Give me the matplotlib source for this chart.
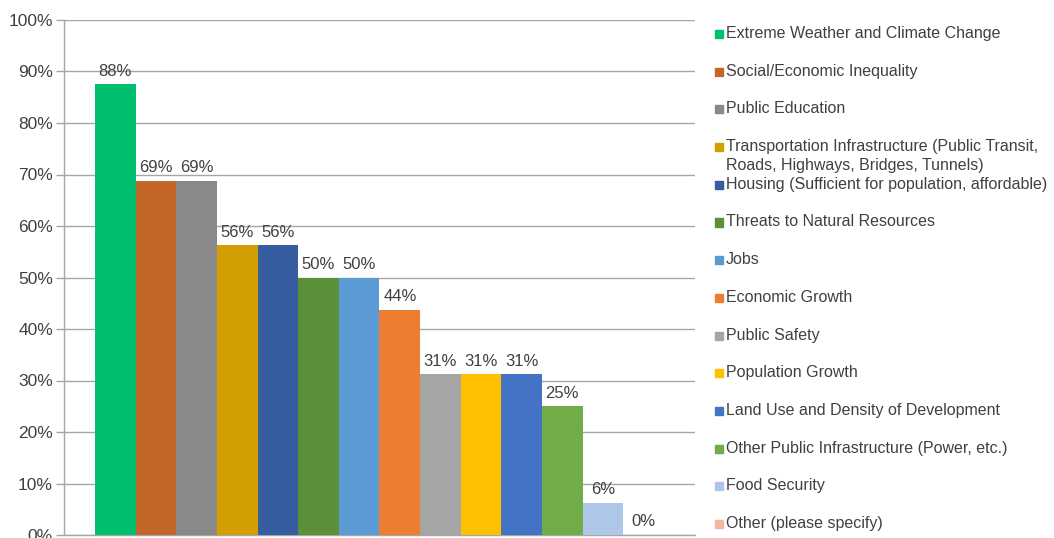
import matplotlib
matplotlib.use("Agg")
import matplotlib.pyplot as plt
from matplotlib.patches import Rectangle
from matplotlib.ticker import MultipleLocator, PercentFormatter

# Survey responses (16 respondents), share choosing each concern
categories = [
    "Extreme Weather and Climate Change",
    "Social/Economic Inequality",
    "Public Education",
    "Transportation Infrastructure (Public Transit,\nRoads, Highways, Bridges, Tunnels)",
    "Housing (Sufficient for population, affordable)",
    "Threats to Natural Resources",
    "Jobs",
    "Economic Growth",
    "Public Safety",
    "Population Growth",
    "Land Use and Density of Development",
    "Other Public Infrastructure (Power, etc.)",
    "Food Security",
    "Other (please specify)",
]
counts = [14, 11, 11, 9, 9, 8, 8, 7, 5, 5, 5, 4, 1, 0]
n_respondents = 16
shares = [100.0 * c / n_respondents for c in counts]

colors = ["#00BF6F", "#C4652A", "#898989", "#D29E00", "#375DA1", "#5B8F38",
          "#5B9BD5", "#ED7D31", "#A5A5A5", "#FFC000", "#4472C4", "#70AD47",
          "#AEC6E7", "#F4B6A0"]

plt.rcParams["font.family"] = ["Liberation Sans", "DejaVu Sans"]
text_color = "#404040"
grid_color = "#A6A6A6"

fig = plt.figure(figsize=(10.54, 5.38), dpi=100)
ax = fig.add_axes([64 / 1054, 3 / 538, 631 / 1054, 515 / 538])

xs = list(range(len(shares)))
bars = ax.bar(xs, shares, width=1.0, color=colors, zorder=3)

for x, v in zip(xs, shares):
    ax.annotate(f"{v:.0f}%", (x, v), xytext=(0, 4), textcoords="offset points",
                ha="center", va="bottom", fontsize=12, color=text_color)

ax.set_xlim(-1.265, len(shares) - 1 + 1.265)
ax.set_ylim(0, 100)
ax.yaxis.set_major_locator(MultipleLocator(10))
ax.yaxis.set_major_formatter(PercentFormatter(decimals=0))
ax.set_xticks([])
ax.tick_params(axis="y", length=6, width=1, color=grid_color, labelsize=12.5,
               labelcolor=text_color, pad=2)
ax.grid(axis="y", color=grid_color, linewidth=1, zorder=0)

for side in ["top", "right"]:
    ax.spines[side].set_visible(False)
for side in ["left", "bottom"]:
    ax.spines[side].set_color(grid_color)
    ax.spines[side].set_linewidth(1)

# legend: one slot per category, square marker + label
W, H = 1054, 538
y0, step = 34, 37.7
for i, (label, c) in enumerate(zip(categories, colors)):
    yc = y0 + step * i
    fig.patches.append(Rectangle((715 / W, 1 - (yc + 4) / H), 8 / W, 8 / H,
                                 transform=fig.transFigure, color=c,
                                 figure=fig))
    fig.text(726 / W, 1 - (yc - 8) / H, label, ha="left", va="top",
             fontsize=11.5, color=text_color, linespacing=1.3)

fig.savefig("out.png", dpi=100)
